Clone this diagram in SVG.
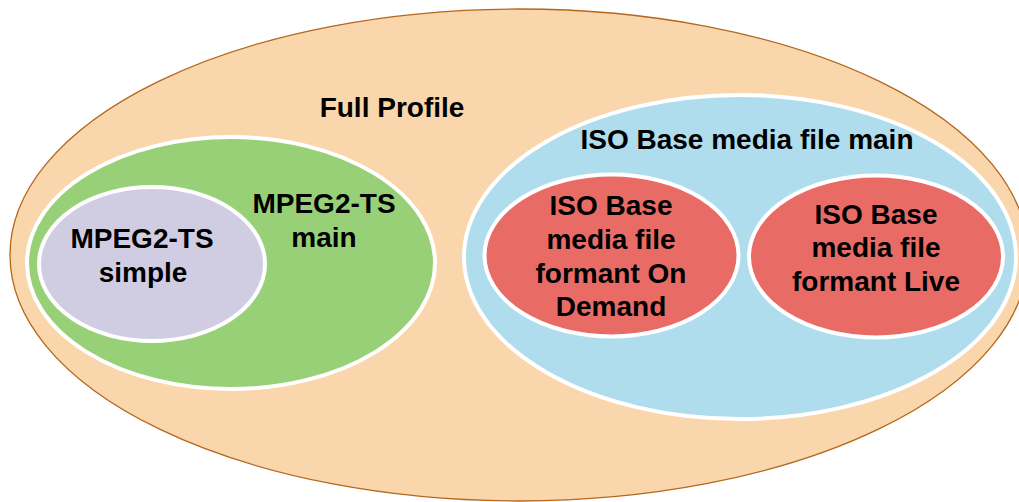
<svg xmlns="http://www.w3.org/2000/svg" width="1019" height="502" viewBox="0 0 1019 502">
<style>
.lbl{font-family:"Liberation Sans",Arial,sans-serif;font-weight:bold;font-size:28px;fill:#000;text-anchor:middle}
.inner{stroke:#fff;stroke-width:4}
</style>
<rect width="1019" height="502" fill="#fff"/>
<g id="full-profile">
<ellipse cx="519" cy="255" rx="509" ry="246" fill="#f9d6ac" stroke="#b5671b" stroke-width="1.3"/>
<text class="lbl" x="392" y="117">Full Profile</text>
</g>
<g id="mpeg2ts-main">
<ellipse cx="231" cy="263" rx="204" ry="126" fill="#98d077" class="inner"/>
<text class="lbl" x="324" y="213">MPEG2-TS</text>
<text class="lbl" x="324" y="247">main</text>
</g>
<g id="mpeg2ts-simple">
<ellipse cx="152" cy="264" rx="113" ry="77" fill="#d0cde3" class="inner"/>
<text class="lbl" x="142" y="248">MPEG2-TS</text>
<text class="lbl" x="143" y="282">simple</text>
</g>
<g id="iso-main">
<ellipse cx="740" cy="257" rx="276" ry="162" fill="#b0ddee" class="inner"/>
<text class="lbl" x="747" y="149">ISO Base media file main</text>
</g>
<g id="iso-ondemand">
<ellipse cx="611.5" cy="255.5" rx="127" ry="81" fill="#e96b66" class="inner"/>
<text class="lbl" x="611" y="215">ISO Base</text>
<text class="lbl" x="611" y="249">media file</text>
<text class="lbl" x="611" y="283">formant On</text>
<text class="lbl" x="611" y="316">Demand</text>
</g>
<g id="iso-live">
<ellipse cx="876" cy="256.5" rx="127" ry="81" fill="#e96b66" class="inner"/>
<text class="lbl" x="876" y="224">ISO Base</text>
<text class="lbl" x="876" y="257">media file</text>
<text class="lbl" x="876" y="291">formant Live</text>
</g>
<g id="connectors"/>
</svg>
